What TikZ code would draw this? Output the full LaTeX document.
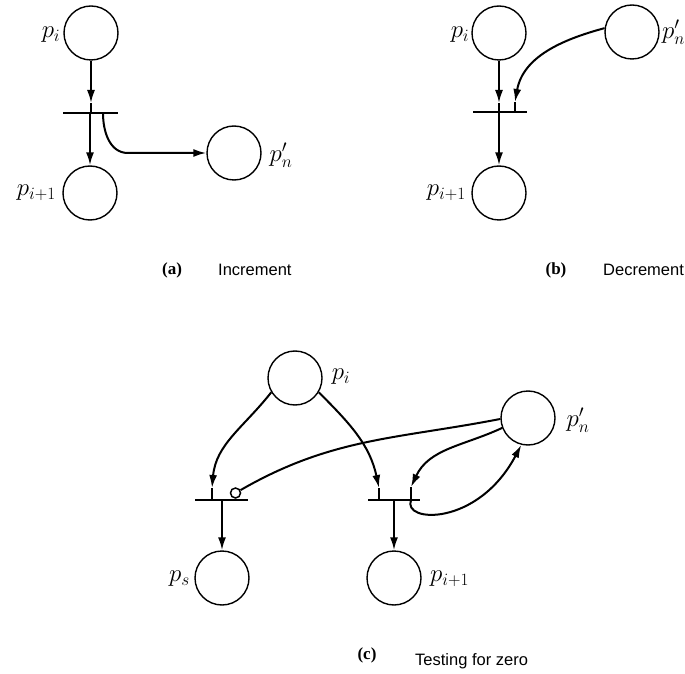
\documentclass[tikz,border=0pt]{standalone}
\usepackage{fontspec}
\newfontfamily\capsans{Liberation Sans}
\newfontfamily\capserif{Liberation Serif}
\usetikzlibrary{arrows.meta}
\begin{document}
\begin{tikzpicture}[x=1pt,y=1pt,
 place/.style={circle,draw,line width=1.4pt,minimum size=54pt,inner sep=0pt},
 tbar/.style={fill=black,minimum width=#1,minimum height=1.6pt,inner sep=0pt},
 arcline/.style={line width=2pt},
 arr/.style={arcline,-{Latex[length=13pt,width=8pt]}},
 lab/.style={font=\fontsize{24}{28}\selectfont,inner sep=0pt},
 captext/.style={font=\capsans\fontsize{16.5}{20}\selectfont,inner sep=0pt,anchor=west},
 capletter/.style={font=\capserif\bfseries\fontsize{17}{20}\selectfont,inner sep=0pt},
 inh/.style={circle,draw,line width=1.5pt,minimum size=10pt,inner sep=0pt,fill=white}]
\useasboundingbox (0,0) rectangle (685,673);

% ---------- (a) Increment ----------
\node[place] (pai) at (91,640) {};
\node[tbar=55pt] (ta) at (90.5,560) {};
\node[place] (pai1) at (90,480) {};
\node[place] (pan) at (234,520) {};
\node[lab] (lai) at (51,638) {$p_i$};
\node[lab,anchor=east] (lai1) at (56,480) {$p_{i+1}$};
\node[lab] (lan) at (281,518) {$p'_n$};
\coordinate (a1) at (91,570);
\draw[arr] (pai) -- (a1);
\draw[arcline] (a1) -- (a1 |- ta.center);
\draw[arr] (ta.center -| pai1) -- (pai1);
\coordinate (aout) at ([xshift=12.5pt]ta.center);
\draw[arr] (aout) to[out=-90,in=180] (128,520) -- (pan);
\node[capletter] (capa) at (172,403) {(a)};
\node[captext] (capat) at (218,403) {Increment};

% ---------- (b) Decrement ----------
\node[place] (pbi) at (499,640) {};
\node[place] (pbn) at (632,641) {};
\node[tbar=54pt] (tb) at (500,561) {};
\node[place] (pbi1) at (499,480) {};
\node[lab] (lbi) at (460,638) {$p_i$};
\node[lab,anchor=east] (lbi1) at (466,480) {$p_{i+1}$};
\node[lab,anchor=west] (lbn) at (662,641) {$p'_n$};
\coordinate (b1) at (499,570);
\draw[arr] (pbi) -- (b1);
\draw[arcline] (b1) -- (b1 |- tb.center);
\draw[arr] (tb.center -| pbi1) -- (pbi1);
\coordinate (b2) at (515,571);
\draw[arr] (pbn.172) to[out=195,in=80] (b2);
\draw[arcline] (b2) -- (b2 |- tb.center);
\node[capletter] (capb) at (556,403) {(b)};
\node[captext] (capbt) at (603,403) {Decrement};

% ---------- (c) Testing for zero ----------
\node[place] (pci) at (295,295) {};
\node[place] (pcn) at (528,255) {};
\node[tbar=53pt] (tc1) at (221.5,173) {};
\node[tbar=52pt] (tc2) at (394,173) {};
\node[place] (pcs) at (222,95) {};
\node[place] (pci1) at (394,95) {};
\node[lab] (lci) at (341,296) {$p_i$};
\node[lab] (lcn) at (578,253) {$p'_n$};
\node[lab,anchor=east] (lcs) at (190,94) {$p_s$};
\node[lab,anchor=west] (lci1) at (430,94) {$p_{i+1}$};
% p_i -> t1
\coordinate (c1) at (212,185);
\draw[arr] (pci.211) to[out=232,in=85] (c1);
\draw[arcline] (c1) -- (c1 |- tc1.center);
% p_i -> t2
\coordinate (c2) at (379,185);
\draw[arr] (pci.-31) to[out=-45,in=102] (c2);
\draw[arcline] (c2) -- (c2 |- tc2.center);
% inhibitor arc
\node[inh] (inh) at (235.5,180) {};
\draw[arcline] (pcn.182) to[out=191,in=30] (inh.30);
% loop p'_n -> t2
\coordinate (c3) at (411,186);
\draw[arr] (pcn.201) to[out=205,in=65] (c3);
\draw[arcline] (c3) -- (c3 |- tc2.center);
% loop t2 -> p'_n
\coordinate (c4) at (411,173);
\draw[arr] (c4) .. controls (402,150) and (478,146) .. (pcn.-104);
% outputs
\draw[arr] (tc1.center -| pcs) -- (pcs);
\draw[arr] (tc2.center -| pci1) -- (pci1);
\node[capletter] (capc) at (367,18) {(c)};
\node[captext] (capct) at (415,12) {Testing for zero};
\end{tikzpicture}
\end{document}
